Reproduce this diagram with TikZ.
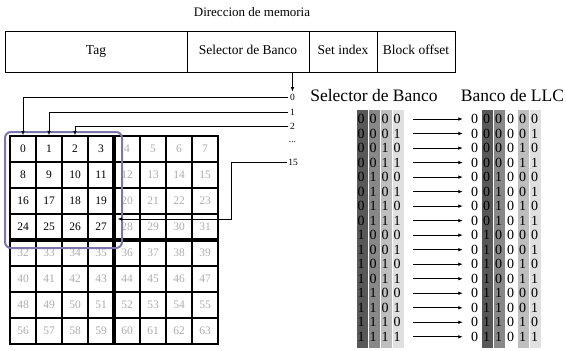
\documentclass[tikz,border=0pt]{standalone}
\usepackage{fontspec}
\setmainfont{Liberation Serif}
\usetikzlibrary{arrows.meta}
\definecolor{grpc}{RGB}{122,118,172}
\definecolor{dimtxt}{RGB}{172,172,172}
\definecolor{bandA}{RGB}{88,88,88}
\definecolor{bandB}{RGB}{136,136,136}
\definecolor{bandC}{RGB}{190,190,190}
\definecolor{bandD}{RGB}{224,224,224}
\begin{document}
\begin{tikzpicture}[x=1pt,y=-1pt,
  field/.style={draw,line width=0.8pt,inner sep=0pt,minimum height=41pt,text height=9pt,text depth=3pt,font=\fontsize{13.5}{16}\selectfont},
  cell/.style={draw,line width=1.2pt,inner sep=0pt,minimum size=26pt,font=\fontsize{11.5}{14}\selectfont},
  lbl/.style={inner sep=1.5pt,font=\fontsize{9.5}{11}\selectfont},
  arr/.style={-{Latex[length=4.5pt,width=3.6pt]},line width=0.8pt},
  bit/.style={inner sep=0pt,font=\fontsize{14}{16}\selectfont},
  big/.style={inner sep=0pt,font=\fontsize{17.5}{20}\selectfont},
  grp/.style={draw=grpc,line width=2pt,rounded corners=6pt,inner sep=0pt},
]
\useasboundingbox (0,0) rectangle (566,351);
\node[font=\fontsize{13}{15}\selectfont] (title) at (252,12) {Direccion de memoria};

\node[field,minimum width=182pt] (tag) at (96,51.5) {Tag};
\node[field,minimum width=122pt] (sel) at (248,51.5) {Selector de Banco};
\node[field,minimum width=68pt] (set) at (343,51.5) {Set index};
\node[field,minimum width=78pt] (blk) at (416,51.5) {Block offset};

\foreach \r in {0,...,7}{\foreach \c in {0,...,7}{
  \pgfmathtruncatemacro\n{8*\r+\c}
  \pgfmathtruncatemacro\hi{(\r<4)&&(\c<4)}
  \ifnum\hi=1 \def\tc{black}\else\def\tc{dimtxt}\fi
  \node[cell,text=\tc] (c\n) at (23+26*\c,149+26*\r) {\n};
}}
\fill[black] (111.6,135.4) rectangle (116.4,344.6);
\fill[black] (9.4,237.6) rectangle (218.6,242.4);

\node[grp,minimum width=117pt,minimum height=116pt] (grp) at (63.5,190) {};

\node[lbl] (l0) at (292.5,97.5) {0};
\node[lbl] (l1) at (292.5,112.3) {1};
\node[lbl] (l2) at (292.5,126.8) {2};
\node[lbl] (ld) at (292.5,142) {...};
\node[lbl] (l15) at (293,162) {15};

\draw[arr,shorten >=1pt] (sel.south -| l0.north) -- (l0.north);
\draw[arr] (l0.west) -| (c0.north);
\draw[arr] (l1.west) -| (c1.north);
\draw[arr] (l2.west) -| (c2.north);
\coordinate (b15) at (231,219);
\coordinate (t15) at (117.5,219);
\draw[arr] (l15.west) -| (b15) -- (t15);

\node[big] (hsel) at (374,96) {Selector de Banco};
\node[big] (hllc) at (512.5,96) {Banco de LLC};

\fill[bandA] (356.6,109.5) rectangle (367.8,348);
\fill[bandB] (368.6,109.5) rectangle (379.8,348);
\fill[bandC] (380.6,109.5) rectangle (391.8,348);
\fill[bandD] (392.6,109.5) rectangle (403.8,348);
\fill[bandA] (481.9,109.5) rectangle (493.1,348);
\fill[bandB] (493.9,109.5) rectangle (505.1,348);
\fill[bandC] (517.9,109.5) rectangle (529.1,348);
\fill[bandD] (529.9,109.5) rectangle (541.1,348);

\foreach \i in {0,...,15}{
  \pgfmathsetmacro\yy{119+14.52*\i}
  \pgfmathtruncatemacro\bA{div(\i,8)}
  \pgfmathtruncatemacro\bB{mod(div(\i,4),2)}
  \pgfmathtruncatemacro\bC{mod(div(\i,2),2)}
  \pgfmathtruncatemacro\bD{mod(\i,2)}
  \node[bit] (s\i-a) at (361,\yy) {\bA};
  \node[bit] (s\i-b) at (373,\yy) {\bB};
  \node[bit] (s\i-c) at (385,\yy) {\bC};
  \node[bit] (s\i-d) at (397,\yy) {\bD};
  \node[bit] (r\i-a) at (474.5,\yy) {0};
  \node[bit] (r\i-b) at (486.5,\yy) {\bA};
  \node[bit] (r\i-c) at (498.5,\yy) {\bB};
  \node[bit] (r\i-d) at (510.5,\yy) {0};
  \node[bit] (r\i-e) at (522.5,\yy) {\bC};
  \node[bit] (r\i-f) at (534.5,\yy) {\bD};
  \draw[arr,shorten <=12.5pt,shorten >=8pt] (s\i-d.east) -- (r\i-a.west);
}
\end{tikzpicture}
\end{document}
